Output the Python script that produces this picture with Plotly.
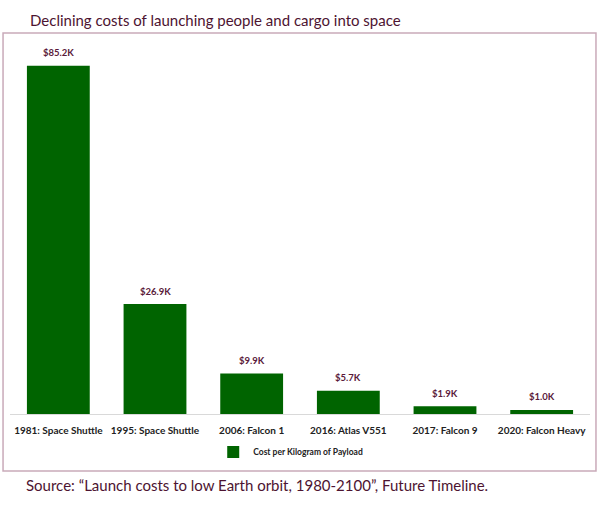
import plotly.graph_objects as go

categories = ["1981: Space Shuttle", "1995: Space Shuttle", "2006: Falcon 1",
              "2016: Atlas V551", "2017: Falcon 9", "2020: Falcon Heavy"]
cost_k = [85.2, 26.9, 9.9, 5.7, 1.9, 1.0]
labels = ["$85.2K", "$26.9K", "$9.9K", "$5.7K", "$1.9K", "$1.0K"]
series_name = "Cost per Kilogram of Payload"
title = "Declining costs of launching people and cargo into space"
source = "Source: \u201cLaunch costs to low Earth orbit, 1980-2100\u201d, Future Timeline."

FONT = "Lato"
MAROON = "#4d1431"

fig = go.Figure()
fig.add_trace(go.Bar(
    x=categories, y=cost_k, name=series_name,
    marker=dict(color="#006400", line=dict(width=0)),
    showlegend=True,
))

for c, v, t in zip(categories, cost_k, labels):
    fig.add_annotation(x=c, y=v, text=t, showarrow=False, yanchor="middle",
                       yshift=13, font=dict(family=FONT, size=9.5, color="#5a1a3a", weight="bold"))

fig.update_layout(
    width=601, height=515,
    margin=dict(l=10, r=11, t=46, b=101, autoexpand=False),
    paper_bgcolor="white", plot_bgcolor="white",
    bargap=0.35,
    font=dict(family=FONT),
    xaxis=dict(showline=True, linecolor="#d9d9d9", linewidth=1, ticks="",
               showgrid=False, tickangle=0, automargin=False, ticklabelstandoff=7,
               tickfont=dict(family=FONT, size=10, color="#222222", weight="bold")),
    yaxis=dict(range=[0, 90], visible=False, showgrid=False),
    legend=dict(orientation="h", x=0.484, xanchor="center", y=-0.103, yanchor="middle",
                font=dict(family=FONT, size=8.5, color="#222222", weight="bold"),
                itemwidth=30),
    showlegend=True,
)

fig.add_shape(type="rect", xref="paper", yref="paper",
              x0=-0.012, x1=1.0103, y0=-0.1549, y1=1.0353,
              line=dict(color="#c9aab9", width=1.5), fillcolor="rgba(0,0,0,0)")

fig.add_annotation(text=title, xref="paper", yref="paper", x=(28-10)/580, y=(414-20)/368,
                   xanchor="left", yanchor="middle", showarrow=False,
                   font=dict(family=FONT, size=15, color=MAROON))
fig.add_annotation(text=source, xref="paper", yref="paper", x=(24-10)/580, y=(414-485)/368,
                   xanchor="left", yanchor="middle", showarrow=False,
                   font=dict(family=FONT, size=15, color=MAROON))

fig.write_html("out.html")
